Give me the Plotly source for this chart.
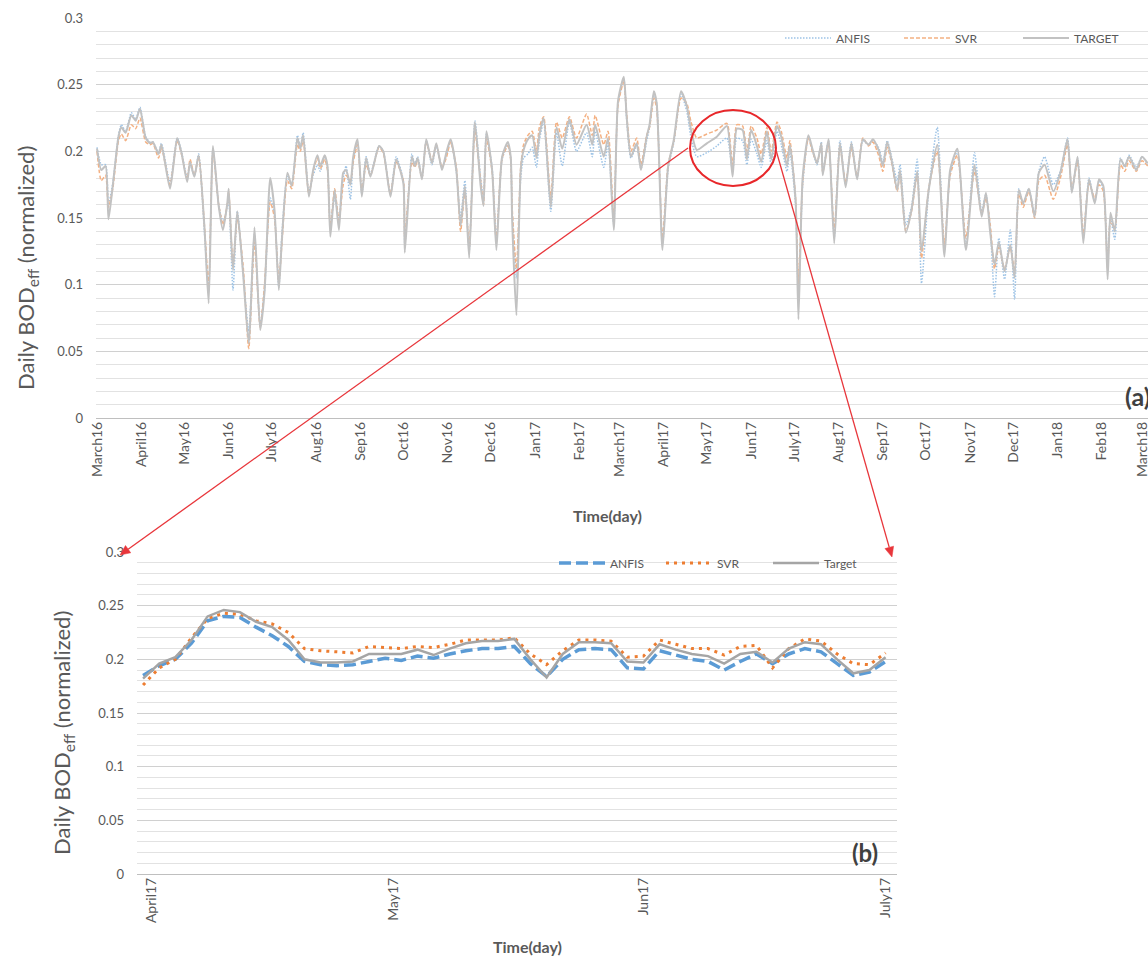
import math
import pandas as pd
import plotly.graph_objects as go

# ---------------- Panel (a): full period, day offsets from 2016-03-01 ----------------
day_a = [0, 3, 6, 8, 11, 15, 17, 20, 24, 27, 30, 34, 37, 39, 43, 45, 51, 56, 59, 63,
         65, 68, 71, 75, 78, 81, 85, 88, 91, 92, 95, 98, 102, 106, 110, 114, 117, 121, 124, 127,
         129, 133, 136, 140, 142, 144, 148, 151, 154, 156, 159, 161, 163, 166, 169, 172, 174, 177, 179, 182,
         185, 188, 191, 197, 200, 205, 209, 214, 215, 220, 222, 224, 227, 230, 234, 237, 241, 244, 247, 251,
         254, 257, 260, 264, 268, 270, 272, 276, 279, 283, 287, 289, 290, 293, 296, 298, 301, 304, 307, 309,
         312, 317, 321, 325, 330, 335, 342, 346, 348, 354, 357, 361, 364, 368, 370, 373, 377, 380, 384, 386,
         389, 391, 395, 399, 403, 408, 412, 415, 419, 426, 433, 440, 444, 447, 451, 454, 457, 461, 464, 468,
         471, 475, 478, 482, 484, 488, 490, 493, 497, 500, 503, 506, 507, 511, 515, 519, 523, 527, 531, 535,
         539, 542, 546, 549, 552, 555, 559, 561, 565, 569, 573, 576, 581, 587, 592, 596, 601, 607, 613, 618,
         621, 624, 627, 630, 634, 638, 641, 644, 647, 651, 655, 658, 662, 668, 673, 678, 681, 685, 689, 693,
         697, 700, 703, 706, 708, 711, 715, 718, 721, 726, 730, 734]

target_a = [0.202, 0.186, 0.189, 0.149, 0.174, 0.211, 0.218, 0.214, 0.227, 0.223, 0.232, 0.210, 0.206, 0.207, 0.198, 0.205, 0.172, 0.210, 0.199, 0.177,
            0.192, 0.181, 0.197, 0.144, 0.086, 0.204, 0.159, 0.141, 0.161, 0.172, 0.111, 0.155, 0.109, 0.056, 0.143, 0.066, 0.094, 0.180, 0.156, 0.096,
            0.131, 0.184, 0.174, 0.210, 0.202, 0.212, 0.166, 0.186, 0.197, 0.189, 0.197, 0.189, 0.136, 0.171, 0.141, 0.184, 0.186, 0.175, 0.196, 0.209,
            0.166, 0.195, 0.181, 0.204, 0.200, 0.166, 0.194, 0.176, 0.124, 0.196, 0.189, 0.195, 0.179, 0.209, 0.191, 0.206, 0.186, 0.199, 0.209, 0.186,
            0.144, 0.174, 0.120, 0.222, 0.174, 0.159, 0.215, 0.186, 0.126, 0.196, 0.207, 0.196, 0.149, 0.077, 0.186, 0.201, 0.209, 0.212, 0.195, 0.212,
            0.225, 0.158, 0.218, 0.202, 0.224, 0.205, 0.220, 0.205, 0.220, 0.196, 0.210, 0.141, 0.238, 0.256, 0.226, 0.196, 0.206, 0.186, 0.211, 0.220,
            0.245, 0.236, 0.126, 0.189, 0.209, 0.245, 0.234, 0.216, 0.201, 0.206, 0.211, 0.219, 0.181, 0.217, 0.216, 0.194, 0.216, 0.204, 0.192, 0.215,
            0.194, 0.219, 0.211, 0.189, 0.205, 0.164, 0.074, 0.181, 0.212, 0.201, 0.191, 0.206, 0.182, 0.209, 0.131, 0.206, 0.173, 0.206, 0.179, 0.209,
            0.205, 0.209, 0.201, 0.189, 0.207, 0.194, 0.171, 0.186, 0.139, 0.156, 0.185, 0.125, 0.171, 0.205, 0.121, 0.186, 0.202, 0.126, 0.190, 0.151,
            0.169, 0.139, 0.115, 0.132, 0.110, 0.130, 0.105, 0.171, 0.161, 0.172, 0.151, 0.184, 0.190, 0.170, 0.184, 0.209, 0.169, 0.196, 0.131, 0.179,
            0.161, 0.179, 0.174, 0.104, 0.154, 0.140, 0.194, 0.189, 0.196, 0.186, 0.196, 0.191]

anfis_a = [0.203, 0.190, 0.190, 0.160, 0.176, 0.212, 0.220, 0.215, 0.229, 0.224, 0.233, 0.211, 0.207, 0.207, 0.199, 0.206, 0.177, 0.210, 0.200, 0.180,
           0.190, 0.182, 0.198, 0.140, 0.095, 0.202, 0.160, 0.147, 0.158, 0.165, 0.096, 0.155, 0.110, 0.065, 0.138, 0.070, 0.095, 0.165, 0.152, 0.098,
           0.135, 0.181, 0.175, 0.212, 0.203, 0.214, 0.170, 0.182, 0.190, 0.185, 0.196, 0.188, 0.145, 0.165, 0.150, 0.180, 0.189, 0.164, 0.193, 0.207,
           0.168, 0.196, 0.183, 0.204, 0.200, 0.168, 0.196, 0.178, 0.130, 0.198, 0.190, 0.196, 0.180, 0.208, 0.190, 0.204, 0.188, 0.197, 0.208, 0.185,
           0.150, 0.178, 0.125, 0.223, 0.180, 0.165, 0.213, 0.188, 0.135, 0.194, 0.205, 0.195, 0.155, 0.105, 0.180, 0.195, 0.198, 0.203, 0.188, 0.208,
           0.222, 0.155, 0.214, 0.189, 0.222, 0.200, 0.214, 0.196, 0.215, 0.188, 0.206, 0.145, 0.236, 0.254, 0.224, 0.195, 0.204, 0.187, 0.208, 0.218,
           0.243, 0.236, 0.130, 0.187, 0.207, 0.243, 0.230, 0.210, 0.196, 0.199, 0.204, 0.210, 0.185, 0.210, 0.208, 0.190, 0.209, 0.198, 0.188, 0.208,
           0.190, 0.215, 0.205, 0.185, 0.200, 0.160, 0.090, 0.175, 0.211, 0.200, 0.190, 0.207, 0.185, 0.208, 0.135, 0.208, 0.175, 0.207, 0.180, 0.208,
           0.205, 0.208, 0.203, 0.192, 0.208, 0.196, 0.178, 0.190, 0.145, 0.158, 0.194, 0.101, 0.170, 0.218, 0.125, 0.183, 0.200, 0.128, 0.199, 0.155,
           0.168, 0.142, 0.091, 0.135, 0.104, 0.141, 0.089, 0.172, 0.160, 0.172, 0.152, 0.185, 0.196, 0.175, 0.185, 0.210, 0.170, 0.195, 0.135, 0.180,
           0.162, 0.178, 0.172, 0.118, 0.150, 0.134, 0.195, 0.188, 0.197, 0.188, 0.196, 0.190]

svr_a = [0.200, 0.178, 0.182, 0.158, 0.172, 0.208, 0.213, 0.208, 0.220, 0.217, 0.225, 0.207, 0.205, 0.206, 0.195, 0.203, 0.175, 0.208, 0.198, 0.179,
         0.194, 0.182, 0.196, 0.145, 0.100, 0.200, 0.160, 0.145, 0.160, 0.170, 0.115, 0.150, 0.115, 0.052, 0.132, 0.068, 0.100, 0.162, 0.150, 0.102,
         0.128, 0.178, 0.172, 0.205, 0.200, 0.208, 0.168, 0.185, 0.195, 0.187, 0.194, 0.186, 0.142, 0.172, 0.148, 0.175, 0.182, 0.178, 0.192, 0.205,
         0.170, 0.190, 0.182, 0.203, 0.199, 0.168, 0.192, 0.178, 0.135, 0.192, 0.188, 0.193, 0.180, 0.207, 0.193, 0.205, 0.188, 0.195, 0.207, 0.188,
         0.140, 0.170, 0.128, 0.215, 0.178, 0.160, 0.210, 0.185, 0.132, 0.195, 0.204, 0.194, 0.158, 0.112, 0.188, 0.205, 0.212, 0.215, 0.200, 0.218,
         0.226, 0.165, 0.222, 0.210, 0.226, 0.210, 0.228, 0.212, 0.227, 0.205, 0.215, 0.150, 0.235, 0.252, 0.228, 0.200, 0.210, 0.190, 0.212, 0.218,
         0.240, 0.232, 0.135, 0.190, 0.208, 0.240, 0.236, 0.222, 0.210, 0.213, 0.216, 0.221, 0.190, 0.220, 0.219, 0.200, 0.219, 0.210, 0.198, 0.218,
         0.200, 0.222, 0.215, 0.195, 0.208, 0.165, 0.100, 0.178, 0.210, 0.199, 0.192, 0.204, 0.184, 0.206, 0.140, 0.204, 0.176, 0.203, 0.181, 0.210,
         0.204, 0.207, 0.197, 0.185, 0.203, 0.192, 0.170, 0.183, 0.140, 0.155, 0.182, 0.120, 0.172, 0.200, 0.130, 0.182, 0.197, 0.135, 0.185, 0.153,
         0.165, 0.145, 0.112, 0.128, 0.112, 0.128, 0.110, 0.168, 0.158, 0.170, 0.150, 0.178, 0.182, 0.164, 0.180, 0.205, 0.172, 0.192, 0.138, 0.176,
         0.165, 0.175, 0.170, 0.112, 0.148, 0.142, 0.190, 0.185, 0.193, 0.185, 0.193, 0.189]

month_ticks_a = pd.date_range("2016-03-01", "2018-03-01", freq="MS")
month_labels_a = ["March16", "April16", "May16", "Jun16", "July16", "Aug16", "Sep16", "Oct16", "Nov16",
                  "Dec16", "Jan17", "Feb17", "March17", "April17", "May17", "Jun17", "July17", "Aug17",
                  "Sep17", "Oct17", "Nov17", "Dec17", "Jan18", "Feb18", "March18"]

# ---------------- Panel (b): zoom, every 2 days from 2017-03-31 ----------------
target_b = [0.182, 0.196, 0.202, 0.218, 0.240, 0.246, 0.244, 0.235, 0.230, 0.218, 0.200, 0.197,
            0.197, 0.198, 0.205, 0.205, 0.205, 0.209, 0.204, 0.210, 0.215, 0.217, 0.217, 0.219,
            0.200, 0.183, 0.205, 0.216, 0.216, 0.215, 0.198, 0.197, 0.214, 0.209, 0.205, 0.203,
            0.196, 0.205, 0.207, 0.197, 0.210, 0.216, 0.214, 0.200, 0.187, 0.190, 0.202]
anfis_b = [0.185, 0.194, 0.200, 0.215, 0.236, 0.240, 0.239, 0.230, 0.222, 0.212, 0.198, 0.195,
           0.194, 0.195, 0.198, 0.201, 0.199, 0.203, 0.201, 0.205, 0.208, 0.210, 0.210, 0.212,
           0.196, 0.184, 0.200, 0.209, 0.210, 0.209, 0.192, 0.191, 0.208, 0.204, 0.200, 0.198,
           0.190, 0.198, 0.205, 0.196, 0.205, 0.210, 0.207, 0.196, 0.185, 0.188, 0.198]
svr_b = [0.176, 0.192, 0.200, 0.220, 0.238, 0.243, 0.242, 0.236, 0.233, 0.225, 0.210, 0.208,
         0.207, 0.206, 0.212, 0.211, 0.210, 0.212, 0.211, 0.214, 0.218, 0.218, 0.218, 0.220,
         0.205, 0.195, 0.208, 0.218, 0.218, 0.217, 0.202, 0.203, 0.218, 0.214, 0.210, 0.210,
         0.204, 0.212, 0.213, 0.192, 0.210, 0.219, 0.217, 0.205, 0.196, 0.195, 0.206]
dates_b = pd.date_range("2017-03-31", periods=len(target_b), freq="2D")
month_ticks_b = pd.to_datetime(["2017-04-01", "2017-05-01", "2017-06-01", "2017-07-01"])
month_labels_b = ["April17", "May17", "Jun17", "July17"]

dates_a = pd.Timestamp("2016-03-01") + pd.to_timedelta(day_a, unit="D")

W, H = 1148, 958
OFF = 0  # body margin removed in the page (see post_script)
FONT = "Lato"
GREY = "#595959"
RED = "#E8363B"


def px(x):
    return (x - OFF) / W


def py(y):
    return 1 - (y - OFF) / H


fig = go.Figure()

# Panel (a)
fig.add_trace(go.Scatter(x=dates_a, y=anfis_a, name="ANFIS", mode="lines",
                         line=dict(color="#9DC3E6", width=1.5, dash="1.5px,1.5px", shape="spline", smoothing=0.6),
                         xaxis="x", yaxis="y", legend="legend"))
fig.add_trace(go.Scatter(x=dates_a, y=svr_a, name="SVR", mode="lines",
                         line=dict(color="#F4B183", width=1.5, dash="4px,2px", shape="spline", smoothing=0.6),
                         xaxis="x", yaxis="y", legend="legend"))
fig.add_trace(go.Scatter(x=dates_a, y=target_a, name="TARGET", mode="lines",
                         line=dict(color="#C2C2C2", width=2, shape="spline", smoothing=0.6),
                         xaxis="x", yaxis="y", legend="legend"))

# Panel (b)
fig.add_trace(go.Scatter(x=dates_b, y=anfis_b, name="ANFIS", mode="lines",
                         line=dict(color="#5B9BD5", width=3.5, dash="12px,5px"),
                         xaxis="x2", yaxis="y2", legend="legend2"))
fig.add_trace(go.Scatter(x=dates_b, y=svr_b, name="SVR", mode="lines",
                         line=dict(color="#ED7D31", width=3, dash="3px,5px"),
                         xaxis="x2", yaxis="y2", legend="legend2"))
fig.add_trace(go.Scatter(x=dates_b, y=target_b, name="Target", mode="lines",
                         line=dict(color="#A5A5A5", width=2.5),
                         xaxis="x2", yaxis="y2", legend="legend2"))

grid_major = "#D0D0D0"
grid_minor = "#E2E2E2"

yax_common = dict(range=[0, 0.3], dtick=0.05, showgrid=True, gridcolor=grid_major, gridwidth=1,
                  minor=dict(dtick=0.01, showgrid=True, gridcolor=grid_minor, gridwidth=1),
                  zeroline=True, zerolinecolor="#BFBFBF", zerolinewidth=1,
                  showline=False, ticks="", tickfont=dict(family=FONT, size=13, color=GREY),
                  ticklabelstandoff=12, automargin=False, fixedrange=True)

fig.update_layout(
    width=W, height=H,
    margin=dict(l=0, r=0, t=0, b=0),
    paper_bgcolor="white", plot_bgcolor="white",
    font=dict(family=FONT, color=GREY),
    xaxis=dict(domain=[px(96), 1.0], anchor="y", type="date",
               range=["2016-02-29 07:00", "2018-03-05 05:00"],
               tickmode="array", tickvals=month_ticks_a, ticktext=month_labels_a,
               tickangle=-90, tickfont=dict(family=FONT, size=14, color=GREY),
               ticklabeloverflow="allow",
               showgrid=False, showline=False, ticks="", automargin=False),
    yaxis=dict(domain=[py(418), py(18)], anchor="x", **yax_common),
    xaxis2=dict(domain=[px(137), px(897)], anchor="y2", type="date",
                range=["2017-03-30 06:00", "2017-07-02 10:00"],
                tickmode="array", tickvals=month_ticks_b, ticktext=month_labels_b,
                tickangle=-90, tickfont=dict(family=FONT, size=14, color=GREY),
                ticklabeloverflow="allow",
                showgrid=False, showline=False, ticks="", automargin=False),
    yaxis2=dict(domain=[py(874), py(552)], anchor="x2", **yax_common),
    legend=dict(orientation="h", x=px(780), y=py(38), xanchor="left", yanchor="middle",
                bgcolor="rgba(0,0,0,0)", font=dict(family=FONT, size=12, color=GREY),
                itemwidth=46, entrywidth=58, traceorder="normal", borderwidth=0),
    legend2=dict(orientation="h", x=px(554), y=py(563), xanchor="left", yanchor="middle",
                 bgcolor="rgba(0,0,0,0)", font=dict(family=FONT, size=12, color=GREY),
                 itemwidth=46, entrywidth=46, traceorder="normal", borderwidth=0),
    showlegend=True,
)

annotations = [
    dict(text="Daily BOD<sub>eff</sub> (normalized)", x=px(27), y=py(268), textangle=-90,
         font=dict(family=FONT, size=22, color=GREY)),
    dict(text="Daily BOD<sub>eff</sub> (normalized)", x=px(63), y=py(733), textangle=-90,
         font=dict(family=FONT, size=22, color=GREY)),
    dict(text="<b>Time(day)</b>", x=px(607), y=py(515), font=dict(family=FONT, size=16, color=GREY)),
    dict(text="<b>Time(day)</b>", x=px(527), y=py(946), font=dict(family=FONT, size=16, color=GREY)),
    dict(text="<b>(b)</b>", x=px(865), y=py(852), font=dict(family=FONT, size=24, color="#404040")),
    dict(text="<b>(a)</b>", x=px(1138), y=py(396), font=dict(family=FONT, size=25, color="#404040")),
]
for a in annotations:
    a.update(xref="paper", yref="paper", showarrow=False, xanchor="center", yanchor="middle")
fig.update_layout(annotations=annotations)

# zoom ellipse
fig.add_shape(type="circle", xref="paper", yref="paper",
              x0=px(690), x1=px(776), y0=py(186), y1=py(110),
              line=dict(color="#E8272A", width=2))


def arrow(tail, tip, head_len=10, head_w=4.5):
    (x0, y0), (x1, y1) = tail, tip
    d = math.hypot(x1 - x0, y1 - y0)
    ux, uy = (x1 - x0) / d, (y1 - y0) / d
    nx, ny = -uy, ux
    bx, by = x1 - head_len * ux, y1 - head_len * uy
    fig.add_shape(type="line", xref="paper", yref="paper",
                  x0=px(x0), y0=py(y0), x1=px(bx), y1=py(by),
                  line=dict(color=RED, width=1.3))
    pts = [(x1, y1), (bx + head_w * nx, by + head_w * ny), (bx - head_w * nx, by - head_w * ny)]
    path = "M " + " L ".join(f"{px(a):.5f},{py(b):.5f}" for a, b in pts) + " Z"
    fig.add_shape(type="path", xref="paper", yref="paper", path=path,
                  fillcolor=RED, line=dict(color=RED, width=0.5))


arrow((688, 148), (120, 555))
arrow((776, 150), (892, 557))

fig.write_html(
    "out.html",
    config={"displayModeBar": False},
    post_script="document.body.style.margin='0';document.body.style.overflow='hidden';"
                "document.documentElement.style.overflow='hidden';",
)
